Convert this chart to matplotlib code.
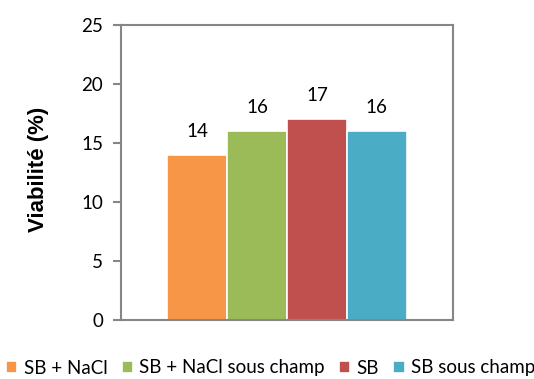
import matplotlib
matplotlib.use("Agg")
import matplotlib.pyplot as plt
import numpy as np

# données
series = ["SB + NaCl", "SB + NaCl sous champ", "SB", "SB sous champ"]
values = [14, 16, 17, 16]
colors = ["#F79646", "#9BBB59", "#C0504D", "#4BACC6"]
y_ticks = [0, 5, 10, 15, 20, 25]

plt.rcParams["font.family"] = ["Lato", "DejaVu Sans"]

fig = plt.figure(figsize=(5.34, 3.79), dpi=100)
ax = fig.add_axes([121 / 534, 1 - 320 / 379, (453 - 121) / 534, (320 - 25) / 379])

width = 0.18
x = (np.arange(len(series)) - (len(series) - 1) / 2) * width
bars = ax.bar(x, values, width=width, color=colors, edgecolor="white", linewidth=1.2)
for b, v in zip(bars, values):
    ax.annotate(str(v), (b.get_x() + b.get_width() / 2, v), xytext=(0, 11),
                textcoords="offset points", ha="center", va="bottom", fontsize=13.5)

ax.set_xlim(-0.5, 0.5)
ax.set_ylim(0, 25)
ax.set_yticks(y_ticks)
ax.set_xticks([])
ax.tick_params(axis="y", length=6, width=1.5, color="#868686", labelsize=13.5, pad=7)
for s in ax.spines.values():
    s.set_color("#868686")
    s.set_linewidth(1.5)
ax.set_ylabel("Viabilité (%)", fontsize=16, fontweight="bold",
              family=["Liberation Sans", "DejaVu Sans"])
ax.yaxis.set_label_coords(-0.217, 0.51)

fig.legend(handles=list(bars), labels=series, loc="center left",
           bbox_to_anchor=(6 / 534, 11 / 379), ncol=4, frameon=False,
           fontsize=13.5, handlelength=0.6, handleheight=0.6,
           handletextpad=0.35, columnspacing=0.75, borderpad=0, borderaxespad=0)

fig.savefig("out.png", dpi=100)
